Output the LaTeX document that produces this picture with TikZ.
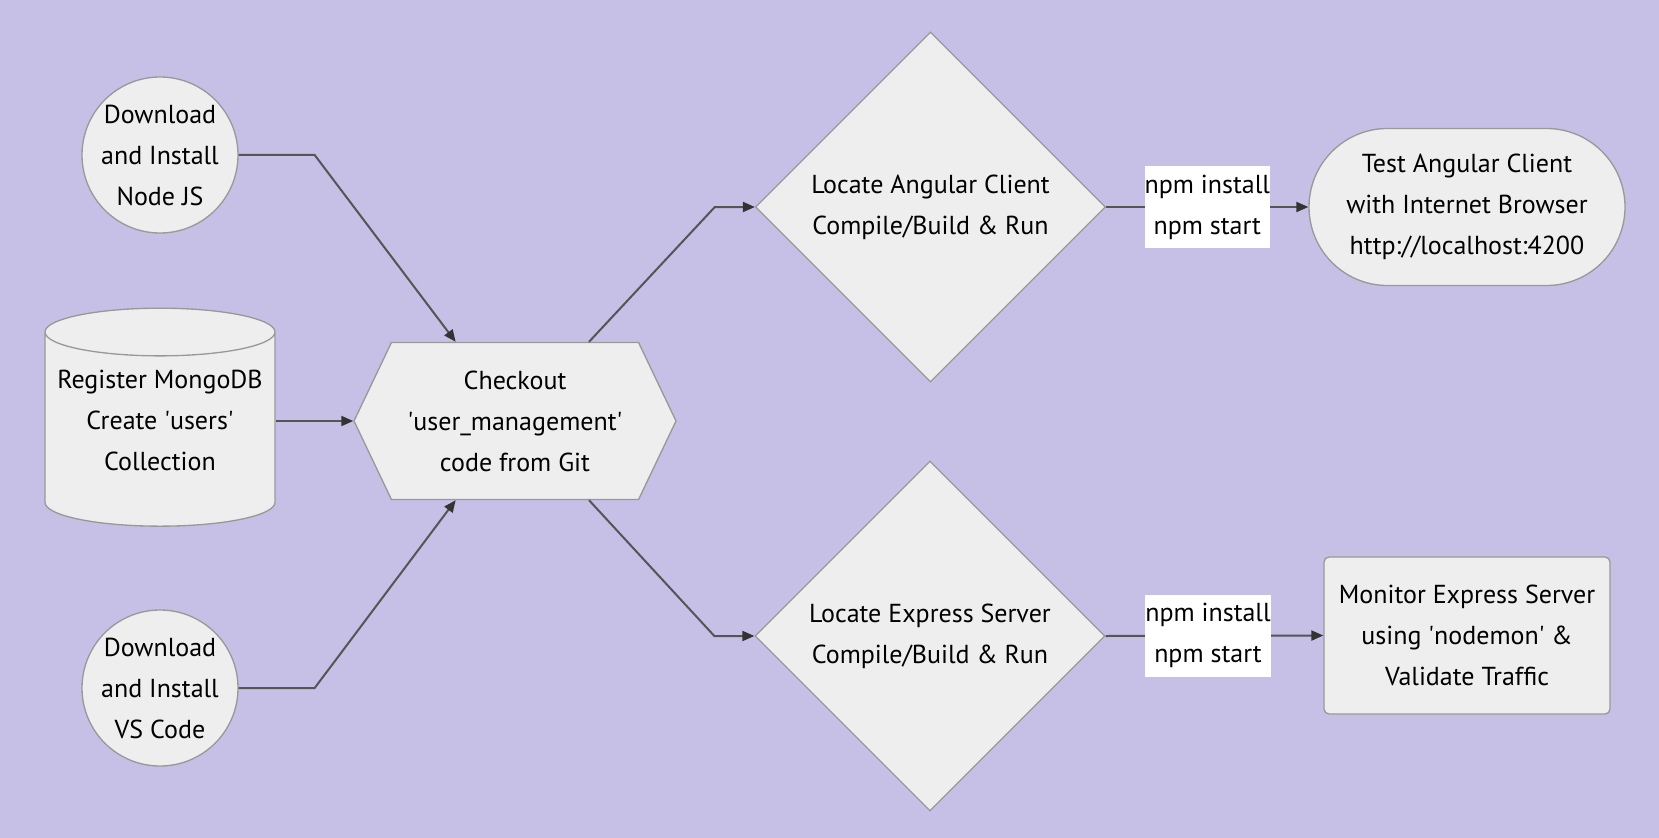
\documentclass[tikz,border=0pt]{standalone}
\usepackage{fontspec}
\setmainfont{PT Sans}
\usetikzlibrary{shapes.geometric,shapes.misc,shapes.symbols,arrows.meta,positioning}

\definecolor{bglav}{RGB}{198,191,230}
\definecolor{boxfill}{RGB}{238,238,238}
\definecolor{boxline}{RGB}{153,153,153}
\definecolor{edgeline}{RGB}{85,85,85}
\definecolor{tipfill}{RGB}{51,51,51}
\newcommand{\sq}{\textquotesingle}

\tikzset{every picture/.style={line width=0.75pt}}
\tikzset{
  flowbox/.style={draw=boxline, fill=boxfill, line width=1pt, align=center, inner sep=0.75pt,
    font=\fontsize{19.5}{30.75}\selectfont},
  roundbox/.style={flowbox, circle, inner sep=-4pt, minimum size=117pt},
  flow/.style={draw=edgeline, line width=1.5pt, -{Triangle[length=9pt,width=7.5pt,color=tipfill]}},
  npmlabel/.style={fill=white, align=center, inner sep=0pt, minimum width=94pt, minimum height=61.5pt,
    font=\fontsize{19.5}{30.75}\selectfont}
}

\begin{document}
\begin{tikzpicture}[x=0.75pt,y=0.75pt,yscale=-1,xscale=1]
%set diagram left start at 0, and has height of 838
\fill[bglav] (0,0) rectangle (1659,838);

%Shape: Circle
\node[roundbox] (njs) at (160,155) {Download\\and Install\\Node JS};
%Shape: Can
\node[flowbox, cylinder, shape border rotate=90, aspect=0.23, minimum width=172.5pt, minimum height=163.5pt] (mdb) at (160,431) {\raisebox{7.5pt}[\height][\depth]{\begin{tabular}{@{}c@{}}Register MongoDB\\Create \sq users\sq\\Collection\end{tabular}}};
%Shape: Circle
\node[roundbox] (vsc) at (160,688) {Download\\and Install\\VS Code};
%Shape: Hexagon
\node[flowbox, signal, signal to=east and west, signal pointer angle=129, minimum width=241.5pt, minimum height=117.75pt] (chk) at (515,421) {Checkout\\\sq user\_management\sq\\code from Git};
%Shape: Diamond
\node[flowbox, diamond, minimum width=262.5pt, minimum height=262.5pt] (ang) at (930.5,207) {Locate Angular Client\\Compile/Build \& Run};
\node[flowbox, diamond, minimum width=262.5pt, minimum height=262.5pt] (exp) at (930,636) {Locate Express Server\\Compile/Build \& Run};
%Shape: Rounded Rect
\node[flowbox, rounded rectangle, minimum width=238.5pt, minimum height=117.75pt] (tst) at (1467,207) {Test Angular Client\\with Internet Browser\\http://localhost:4200};
\node[flowbox, rectangle, rounded corners=3.75pt, minimum width=214.5pt, minimum height=117.75pt] (mon) at (1467,635.5) {Monitor Express Server\\using \sq nodemon\sq\ \&\\Validate Traffic};

%Straight Lines
\draw[flow] (njs.east) -- ++(76,0) -- ([xshift=-44.5pt]chk.north);
\draw[flow] (mdb.east |- chk.west) -- (chk.west);
\draw[flow] (vsc.east) -- ++(76,0) -- ([xshift=-44.5pt]chk.south);
\draw[flow] ([xshift=55.5pt]chk.north) -- ([xshift=-30pt]ang.west) -- (ang.west);
\draw[flow] ([xshift=55.5pt]chk.south) -- ([xshift=-30pt]exp.west) -- (exp.west);
\draw[flow] (ang.east) -- node[npmlabel] (lblang) {npm install\\npm start} (tst.west);
\draw[flow] (exp.east) -- node[npmlabel, pos=0.47] (lblexp) {npm install\\npm start} (mon.west);

\end{tikzpicture}
\end{document}
